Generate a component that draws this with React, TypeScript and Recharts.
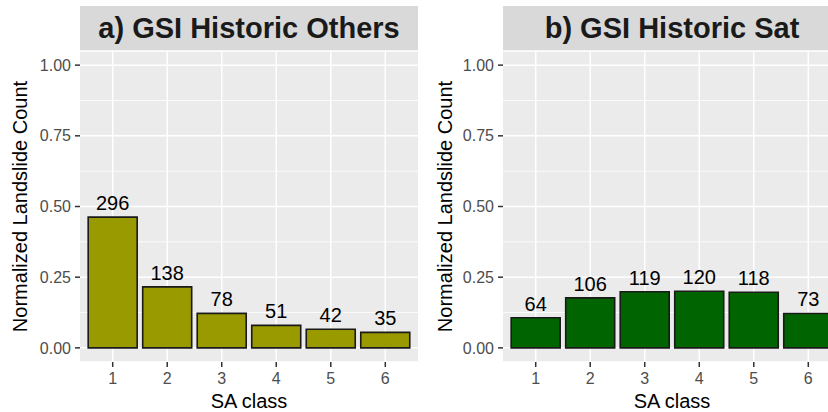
import React from 'react';
import { BarChart, Bar, XAxis, YAxis, CartesianGrid, ReferenceLine, LabelList } from 'recharts';

const classes = ['1', '2', '3', '4', '5', '6'];
const othersCounts = [296, 138, 78, 51, 42, 35];
const othersValues = [0.4625, 0.2156, 0.1219, 0.0797, 0.0656, 0.0547];
const satCounts = [64, 106, 119, 120, 118, 73];
const satValues = [0.1067, 0.1767, 0.1983, 0.2, 0.1967, 0.1217];
const yTicks = [0, 0.25, 0.5, 0.75, 1];
const yMinor = [0.125, 0.375, 0.625, 0.875];
const titles = ['a) GSI Historic Others', 'b) GSI Historic Sat'];
const yTitle = 'Normalized Landslide Count';
const xTitle = 'SA class';

const FONT = '"Liberation Sans", Arial, Helvetica, sans-serif';
const CHART_W = 420;
const CHART_H = 412;
const PLOT_LEFT = 80;
const PLOT_TOP = 51;
const PLOT_W = 338;
const X_AXIS_H = 50;
const BAND = PLOT_W / 6.2;

type PanelProps = {
  left: number;
  title: string;
  counts: number[];
  values: number[];
  color: string;
  yLabelOffset: number;
};

function Panel({ left, title, counts, values, color, yLabelOffset }: PanelProps) {
  const data = classes.map((c, i) => ({ cls: c, value: values[i], count: counts[i] }));
  return (
    <div style={{ position: 'absolute', left, top: 0, width: CHART_W, height: CHART_H }}>
      <div
        style={{
          position: 'absolute',
          left: PLOT_LEFT,
          top: 6,
          width: PLOT_W,
          height: PLOT_TOP - 6,
          background: '#D9D9D9',
          color: '#1A1A1A',
          fontFamily: FONT,
          fontWeight: 'bold',
          fontSize: 29,
          display: 'flex',
          alignItems: 'center',
          justifyContent: 'center',
          whiteSpace: 'nowrap',
        }}
      >
        {title}
      </div>
      <BarChart
        width={CHART_W}
        height={CHART_H}
        data={data}
        margin={{ top: PLOT_TOP, right: CHART_W - PLOT_LEFT - PLOT_W, bottom: 0, left: 0 }}
        barCategoryGap="5%"
        style={{ fontFamily: FONT }}
      >
        <CartesianGrid fill="#EBEBEB" stroke="#FFFFFF" strokeWidth={1.5} vertical={false} />
        {yMinor.map((v) => (
          <ReferenceLine key={'m' + v} y={v} stroke="#FFFFFF" strokeWidth={0.8} zIndex={-90} />
        ))}
        {classes.map((c) => (
          <ReferenceLine key={'v' + c} x={c} stroke="#FFFFFF" strokeWidth={1.5} zIndex={-90} />
        ))}
        <XAxis
          dataKey="cls"
          type="category"
          height={X_AXIS_H}
          padding={{ left: BAND * 0.1, right: BAND * 0.1 }}
          axisLine={false}
          tickSize={5}
          tickMargin={6}
          tickLine={{ stroke: '#333333', strokeWidth: 1.5 }}
          tick={{ fill: '#4D4D4D', fontSize: 16, fontFamily: FONT }}
          interval={0}
          label={{ value: xTitle, position: 'insideBottom', offset: 4.5, fill: '#000000', fontSize: 20, fontFamily: FONT }}
        />
        <YAxis
          type="number"
          domain={[-0.05, 1.05]}
          ticks={yTicks}
          width={PLOT_LEFT}
          axisLine={false}
          tickSize={5}
          tickMargin={4}
          tickLine={{ stroke: '#333333', strokeWidth: 1.5 }}
          tick={{ fill: '#4D4D4D', fontSize: 16, fontFamily: FONT }}
          tickFormatter={(v: number) => v.toFixed(2)}
          allowDataOverflow
          label={{
            value: yTitle,
            angle: -90,
            position: 'insideLeft',
            offset: yLabelOffset,
            fill: '#000000',
            fontSize: 20,
            fontFamily: FONT,
            style: { textAnchor: 'middle' },
          }}
        />
        <Bar dataKey="value" fill={color} stroke="#1A1A1A" strokeWidth={1.6} isAnimationActive={false}>
          <LabelList dataKey="count" position="top" offset={7} fill="#000000" fontSize={20} fontFamily={FONT} />
        </Bar>
      </BarChart>
    </div>
  );
}

export default function App() {
  return (
    <div
      style={{
        position: 'absolute',
        left: 0,
        top: 0,
        width: 828,
        height: 412,
        overflow: 'hidden',
        background: '#FFFFFF',
      }}
    >
      <Panel left={0} title={titles[0]} counts={othersCounts} values={othersValues} color="#999900" yLabelOffset={20} />
      <Panel left={423} title={titles[1]} counts={satCounts} values={satValues} color="#006400" yLabelOffset={22} />
    </div>
  );
}
